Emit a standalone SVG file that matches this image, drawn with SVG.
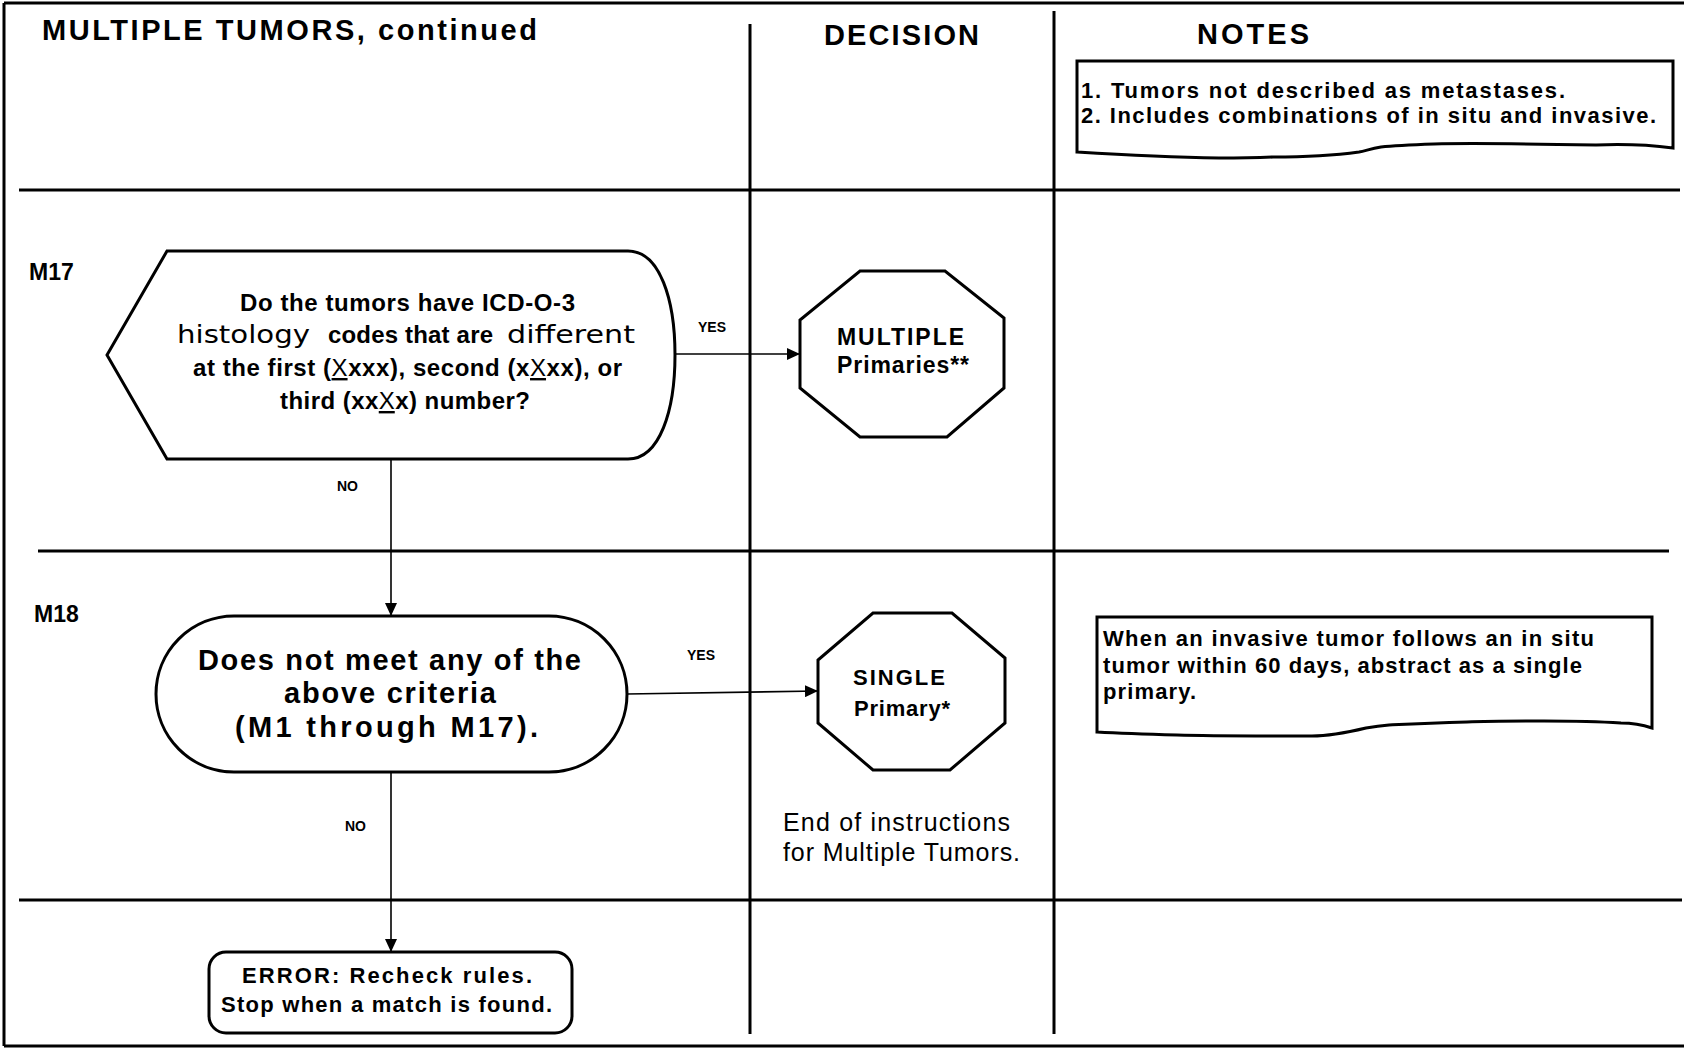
<svg xmlns="http://www.w3.org/2000/svg" width="1686" height="1048" viewBox="0 0 1686 1048">
<defs>
<style>
text{font-family:"Liberation Sans",Arial,sans-serif;fill:#000}
.b{font-weight:bold}
.hdr{font-size:29px;font-weight:bold}
.grid{stroke:#000;stroke-width:3;fill:none}
.shape{stroke:#000;stroke-width:3;fill:#fff}
.conn{stroke:#000;stroke-width:1.6;fill:none}
.lbl{font-size:14px;font-weight:bold}
.note{font-size:22px;font-weight:bold}
.wide{font-family:"DejaVu Sans","Liberation Sans",sans-serif;font-weight:normal}
.ul{text-decoration:underline;font-weight:normal}
</style>
<marker id="arr" markerWidth="14" markerHeight="12" refX="13" refY="6" orient="auto" markerUnits="userSpaceOnUse">
<path d="M0,0 L13,6 L0,12 Z" fill="#000"/>
</marker>
</defs>
<rect width="1686" height="1048" fill="#fff"/>

<g id="grid">
<path class="grid" d="M4,3 H1684 M4,3 V1046 M4,1046 H1684"/>
<line class="grid" x1="750" y1="24" x2="750" y2="1034"/>
<line class="grid" x1="1054" y1="11" x2="1054" y2="1034"/>
<line class="grid" x1="19" y1="190" x2="1680" y2="190"/>
<line class="grid" x1="38" y1="551" x2="1669" y2="551"/>
<line class="grid" x1="19" y1="900" x2="1682" y2="900"/>
</g>

<g id="headers">
<text class="hdr" x="42" y="40" font-size="30" textLength="495" lengthAdjust="spacing">MULTIPLE TUMORS, continued</text>
<text class="hdr" x="824" y="45" textLength="155" lengthAdjust="spacing">DECISION</text>
<text class="hdr" x="1197" y="44" textLength="112" lengthAdjust="spacing">NOTES</text>
</g>

<g id="note1">
<path class="shape" d="M1077,61 H1673 V148 C1650,145 1620,144 1596,145 C1540,144 1470,143 1434,144 C1405,145 1390,146 1381,147 C1370,149 1365,151 1359,152 C1330,156 1300,157 1273,157 C1250,158 1235,158 1219,158 C1160,157 1110,154 1077,152 Z"/>
<text class="note" x="1081" y="98" textLength="484" lengthAdjust="spacing">1.  Tumors not described as metastases.</text>
<text class="note" x="1081" y="123" textLength="575" lengthAdjust="spacing">2.  Includes combinations of in situ and invasive.</text>
</g>

<g id="m17">
<text class="b" x="29" y="280" font-size="23">M17</text>
<path class="shape" d="M107,355 L167,251 H628 C660,251 675,300 675,355 C675,410 660,459 628,459 H167 Z"/>
<text class="b" x="240" y="311" font-size="24" textLength="335" lengthAdjust="spacing">Do the tumors have ICD-O-3</text>
<text class="wide" x="177" y="343" font-size="25" textLength="133" lengthAdjust="spacingAndGlyphs">histology</text>
<text class="b" x="328" y="343" font-size="24" textLength="165" lengthAdjust="spacing">codes that are</text>
<text class="wide" x="507" y="343" font-size="25" textLength="128" lengthAdjust="spacingAndGlyphs">different</text>
<text class="b" x="193" y="376" font-size="24" textLength="429" lengthAdjust="spacing">at the first (<tspan class="ul">X</tspan>xxx), second (x<tspan class="ul">X</tspan>xx), or</text>
<text class="b" x="280" y="409" font-size="24" textLength="250" lengthAdjust="spacing">third (xx<tspan class="ul">X</tspan>x) number?</text>
</g>

<g id="multiple">
<path class="shape" d="M860,271 H945 L1004,318 V388 L947,437 H860 L800,388 V320 Z"/>
<text class="b" x="837" y="345" font-size="23" textLength="127" lengthAdjust="spacing">MULTIPLE</text>
<text class="b" x="837" y="373" font-size="23" textLength="132" lengthAdjust="spacing">Primaries**</text>
</g>

<g id="m18">
<text class="b" x="34" y="622" font-size="23">M18</text>
<rect class="shape" x="156" y="616" width="471" height="156" rx="78" ry="78"/>
<text class="b" x="198" y="670" font-size="29" textLength="383" lengthAdjust="spacing">Does not meet any of the</text>
<text class="b" x="284" y="703" font-size="29" textLength="212" lengthAdjust="spacing">above criteria</text>
<text class="b" x="235" y="737" font-size="29" textLength="303" lengthAdjust="spacing">(M1 through M17).</text>
</g>

<g id="single">
<path class="shape" d="M873,613 H952 L1005,658 V723 L950,770 H873 L818,723 V660 Z"/>
<text class="b" x="853" y="685" font-size="22" textLength="92" lengthAdjust="spacing">SINGLE</text>
<text class="b" x="854" y="716" font-size="22" textLength="96" lengthAdjust="spacing">Primary*</text>
<text x="783" y="831" font-size="25" textLength="227" lengthAdjust="spacing">End of instructions</text>
<text x="783" y="861" font-size="25" textLength="237" lengthAdjust="spacing">for Multiple Tumors.</text>
</g>

<g id="note2">
<path class="shape" d="M1097,617 H1652 V728 C1640,724 1630,723 1621,723 C1590,721 1570,721 1544,721 C1510,721 1490,721 1467,722 C1430,723 1410,724 1389,725 C1378,726 1372,727 1366,728 C1345,733 1330,736 1312,736 C1260,736 1210,736 1177,735 C1140,734 1115,733 1097,732 Z"/>
<text class="note" x="1103" y="646" textLength="491" lengthAdjust="spacing">When an invasive tumor follows an in situ</text>
<text class="note" x="1103" y="673" textLength="479" lengthAdjust="spacing">tumor within 60 days, abstract as a single</text>
<text class="note" x="1103" y="699" textLength="93" lengthAdjust="spacing">primary.</text>
</g>

<g id="error">
<rect class="shape" x="209" y="952" width="363" height="81" rx="17" ry="17"/>
<text class="b" x="242" y="983" font-size="22" textLength="290" lengthAdjust="spacing">ERROR:  Recheck rules.</text>
<text class="b" x="221" y="1012" font-size="22" textLength="331" lengthAdjust="spacing">Stop when a match is found.</text>
</g>

<g id="connectors">
<line class="conn" x1="675" y1="354" x2="800" y2="354" stroke-width="2.6" marker-end="url(#arr)"/>
<line class="conn" x1="391" y1="460" x2="391" y2="616" marker-end="url(#arr)"/>
<line class="conn" x1="627" y1="694" x2="818" y2="691" stroke-width="2.6" marker-end="url(#arr)"/>
<line class="conn" x1="391" y1="773" x2="391" y2="952" marker-end="url(#arr)"/>
<text class="lbl" x="698" y="332" font-size="15">YES</text>
<text class="lbl" x="337" y="491">NO</text>
<text class="lbl" x="687" y="660" font-size="15">YES</text>
<text class="lbl" x="345" y="831">NO</text>
</g>
</svg>
